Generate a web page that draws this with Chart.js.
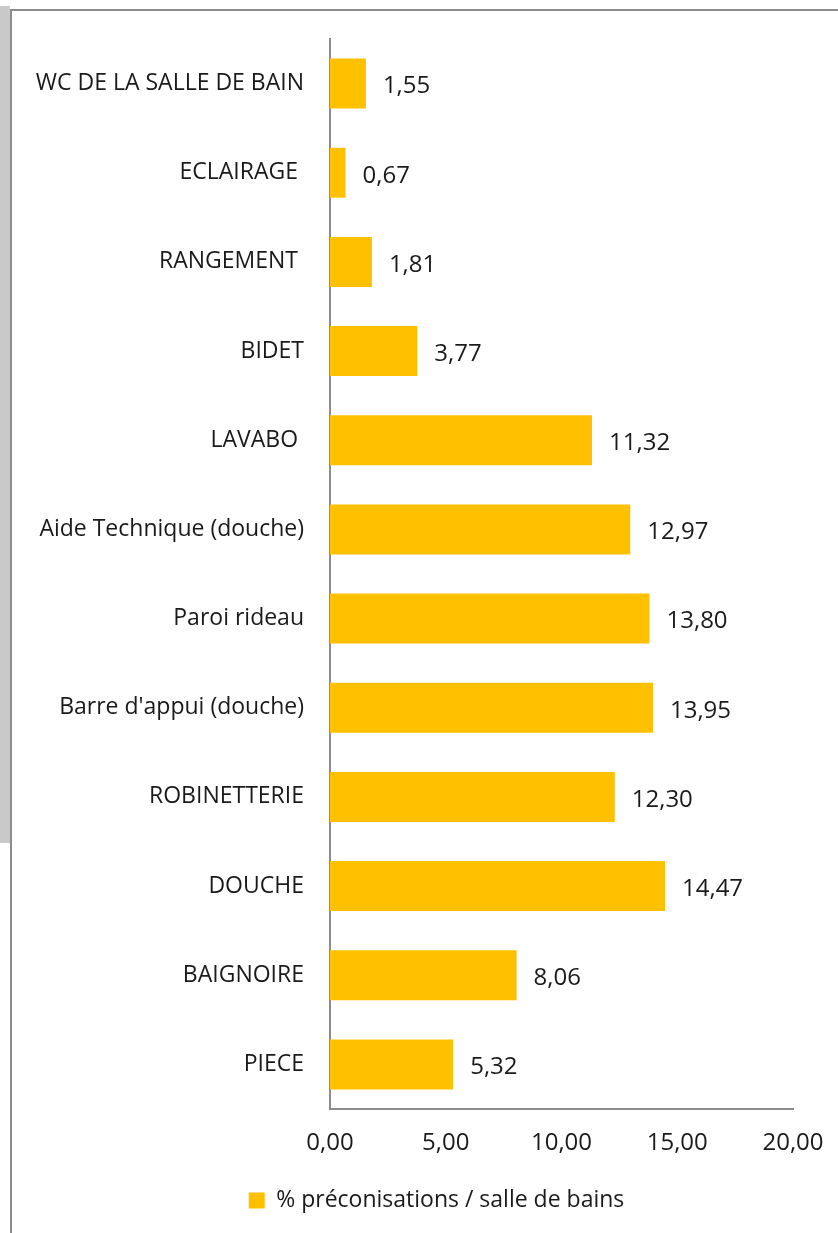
<!DOCTYPE html>
<html>
<head>
<meta charset="utf-8">
<script src="https://cdn.jsdelivr.net/npm/chart.js@4"></script>
<style>
  html, body { margin: 0; padding: 0; background: #fff; }
  body { width: 838px; height: 1233px; position: relative; overflow: hidden; }
  #strip { position: absolute; left: 0; top: 6px; width: 10px; height: 837px; background: #c9c9c9; }
  #frame { position: absolute; left: 10px; top: 9px; width: 840px; height: 1240px;
           border-left: 2px solid #8c8c8c; border-top: 2px solid #8c8c8c; }
  #wrap { position: absolute; left: 12px; top: 11px; width: 826px; height: 1222px; }
</style>
</head>
<body>
<div id="strip"></div>
<div id="frame"></div>
<div id="wrap"><canvas id="chart"></canvas></div>
<script>
const categories = ['WC DE LA SALLE DE BAIN', 'ECLAIRAGE ', 'RANGEMENT ', 'BIDET', 'LAVABO ',
  'Aide Technique (douche)', 'Paroi rideau', "Barre d'appui (douche)", 'ROBINETTERIE',
  'DOUCHE', 'BAIGNOIRE', 'PIECE'];
const values = [1.55, 0.67, 1.81, 3.77, 11.32, 12.97, 13.80, 13.95, 12.30, 14.47, 8.06, 5.32];
const seriesName = '% préconisations / salle de bains';
const xTicks = [0, 5, 10, 15, 20];

const fontFamily = "'Open Sans', sans-serif";
const fmt = v => v.toFixed(2).replace('.', ',');

// value labels to the right of each bar
const valueLabels = {
  id: 'valueLabels',
  afterLayout(chart) {
    // legend sits a bit right of the canvas centre in the original
    chart.legend.left += 34;
    chart.legend.right += 34;
  },
  afterDatasetsDraw(chart) {
    const ctx = chart.ctx;
    const meta = chart.getDatasetMeta(0);
    ctx.save();
    ctx.font = '24px ' + fontFamily;
    ctx.fillStyle = '#1a1a1a';
    ctx.textAlign = 'left';
    ctx.textBaseline = 'middle';
    meta.data.forEach((bar, i) => {
      ctx.fillText(fmt(values[i]), bar.x + 17, bar.y + 3);
    });
    ctx.restore();
  }
};

Chart.defaults.font.family = fontFamily;
Chart.defaults.font.size = 23;
Chart.defaults.color = '#1a1a1a';

new Chart(document.getElementById('chart'), {
  type: 'bar',
  data: {
    labels: categories,
    datasets: [{
      label: seriesName,
      data: values,
      backgroundColor: '#FFC000',
      borderWidth: 0,
      categoryPercentage: 1,
      barPercentage: 0.56
    }]
  },
  options: {
    indexAxis: 'y',
    responsive: true,
    maintainAspectRatio: false,
    animation: false,
    layout: { padding: { top: 28, right: 45, bottom: 11, left: 0 } },
    scales: {
      y: {
        grid: { display: false, drawTicks: false },
        border: { display: true, color: '#8c8c8c', width: 2 },
        ticks: { padding: 26, font: { size: 23 } },
        afterFit: s => { s.width = 318; s.paddingTop = 0; s.paddingBottom = 0; }
      },
      x: {
        min: 0,
        max: 20,
        afterBuildTicks: s => { s.ticks = xTicks.map(v => ({ value: v })); },
        grid: { display: false, drawTicks: false },
        border: { display: true, color: '#8c8c8c', width: 2 },
        ticks: { padding: 20, font: { size: 24 }, callback: v => fmt(v) },
        afterFit: s => { s.height = 68; s.paddingLeft = 0; s.paddingRight = 0; }
      }
    },
    plugins: {
      legend: {
        position: 'bottom',
        labels: { boxWidth: 16, boxHeight: 16, padding: 12, font: { size: 23 } }
      },
      tooltip: { enabled: false }
    }
  },
  plugins: [valueLabels]
});
</script>
</body>
</html>
